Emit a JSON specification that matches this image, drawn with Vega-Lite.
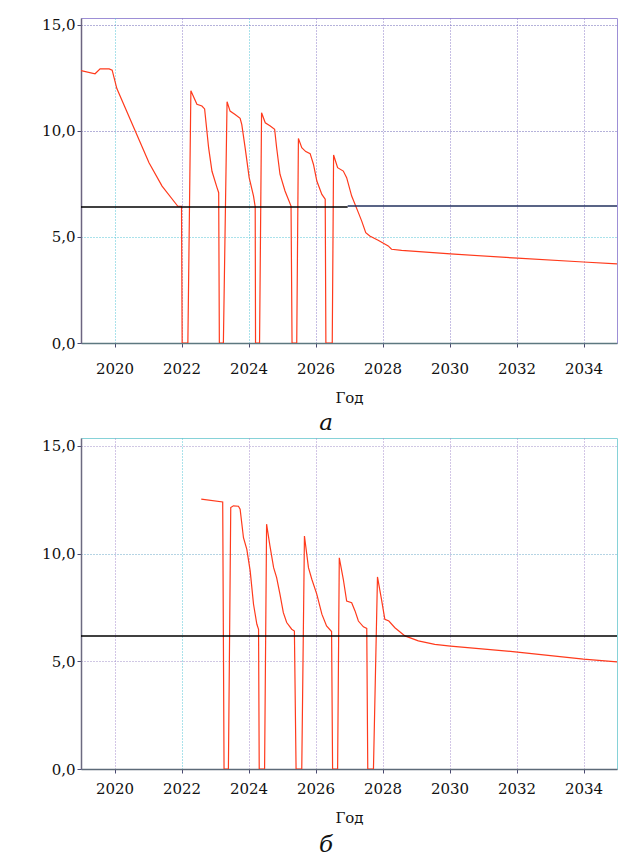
{
  "$schema": "https://vega.github.io/schema/vega-lite/v6.json",
  "background": "white",
  "padding": {"left": 41, "top": 17, "right": 25, "bottom": 0},
  "spacing": 1,
  "config": {
    "font": "DejaVu Serif",
    "view": {"stroke": "#a898d8", "strokeWidth": 1},
    "axis": {
      "labelFont": "DejaVu Serif", "labelFontSize": 15, "labelColor": "#111",
      "titleFont": "DejaVu Serif", "titleFontSize": 15, "titleFontWeight": "normal", "titleColor": "#111",
      "tickColor": "#4a4a70", "tickSize": 4, "domainWidth": 1.5,
      "gridDash": [1, 2], "gridWidth": 1, "gridOpacity": 1
    },
    "title": {"font": "DejaVu Serif", "fontSize": 23, "fontStyle": "italic", "fontWeight": "normal", "color": "#111"}
  },
  "datasets": {
    "a": [
      {"year": 2019.0, "value": 12.85}, {"year": 2019.42, "value": 12.7}, {"year": 2019.57, "value": 12.93},
      {"year": 2019.84, "value": 12.93}, {"year": 2019.93, "value": 12.87}, {"year": 2020.07, "value": 12.0},
      {"year": 2021.03, "value": 8.5}, {"year": 2021.42, "value": 7.4}, {"year": 2021.89, "value": 6.45},
      {"year": 2022.0, "value": 6.45}, {"year": 2022.02, "value": 0}, {"year": 2022.19, "value": 0},
      {"year": 2022.28, "value": 11.9}, {"year": 2022.46, "value": 11.26}, {"year": 2022.61, "value": 11.18},
      {"year": 2022.69, "value": 11.04}, {"year": 2022.81, "value": 9.2}, {"year": 2022.91, "value": 8.1},
      {"year": 2023.06, "value": 7.33}, {"year": 2023.11, "value": 7.09}, {"year": 2023.13, "value": 0},
      {"year": 2023.25, "value": 0}, {"year": 2023.36, "value": 11.38}, {"year": 2023.45, "value": 10.94},
      {"year": 2023.6, "value": 10.78}, {"year": 2023.75, "value": 10.6}, {"year": 2023.8, "value": 10.3},
      {"year": 2023.9, "value": 9.2}, {"year": 2024.02, "value": 7.8}, {"year": 2024.15, "value": 6.93},
      {"year": 2024.2, "value": 6.42}, {"year": 2024.21, "value": 0}, {"year": 2024.33, "value": 0},
      {"year": 2024.39, "value": 10.86}, {"year": 2024.5, "value": 10.39}, {"year": 2024.65, "value": 10.24},
      {"year": 2024.78, "value": 10.08}, {"year": 2024.84, "value": 9.21}, {"year": 2024.94, "value": 7.96},
      {"year": 2025.09, "value": 7.17}, {"year": 2025.27, "value": 6.46}, {"year": 2025.3, "value": 0},
      {"year": 2025.44, "value": 0}, {"year": 2025.49, "value": 9.65}, {"year": 2025.59, "value": 9.21},
      {"year": 2025.71, "value": 9.03}, {"year": 2025.84, "value": 8.93}, {"year": 2025.94, "value": 8.42},
      {"year": 2026.04, "value": 7.64}, {"year": 2026.19, "value": 7.01}, {"year": 2026.29, "value": 6.78},
      {"year": 2026.31, "value": 0}, {"year": 2026.5, "value": 0}, {"year": 2026.54, "value": 8.87},
      {"year": 2026.66, "value": 8.27}, {"year": 2026.83, "value": 8.11}, {"year": 2026.93, "value": 7.8},
      {"year": 2027.08, "value": 6.93}, {"year": 2027.28, "value": 6.15}, {"year": 2027.38, "value": 5.75},
      {"year": 2027.5, "value": 5.2}, {"year": 2027.62, "value": 5.05}, {"year": 2027.87, "value": 4.85},
      {"year": 2028.17, "value": 4.58}, {"year": 2028.27, "value": 4.42}, {"year": 2028.57, "value": 4.37},
      {"year": 2030.03, "value": 4.2}, {"year": 2032.03, "value": 4.0}, {"year": 2034.0, "value": 3.82},
      {"year": 2035.0, "value": 3.73}
    ],
    "ref_a": [
      {"year": 2019.0, "value": 6.42, "seg": "k"}, {"year": 2026.96, "value": 6.42, "seg": "k"},
      {"year": 2026.96, "value": 6.46, "seg": "n"}, {"year": 2035.0, "value": 6.46, "seg": "n"}
    ],
    "b": [
      {"year": 2022.59, "value": 12.53}, {"year": 2023.23, "value": 12.4}, {"year": 2023.27, "value": 0},
      {"year": 2023.4, "value": 0}, {"year": 2023.47, "value": 12.14}, {"year": 2023.55, "value": 12.22},
      {"year": 2023.7, "value": 12.2}, {"year": 2023.75, "value": 12.06}, {"year": 2023.85, "value": 10.74},
      {"year": 2023.95, "value": 10.2}, {"year": 2024.05, "value": 9.2}, {"year": 2024.15, "value": 7.65},
      {"year": 2024.25, "value": 6.72}, {"year": 2024.3, "value": 6.49}, {"year": 2024.32, "value": 0},
      {"year": 2024.48, "value": 0}, {"year": 2024.54, "value": 11.37}, {"year": 2024.64, "value": 10.36},
      {"year": 2024.75, "value": 9.35}, {"year": 2024.84, "value": 8.89}, {"year": 2024.94, "value": 8.11},
      {"year": 2025.04, "value": 7.26}, {"year": 2025.14, "value": 6.8}, {"year": 2025.29, "value": 6.49},
      {"year": 2025.37, "value": 6.41}, {"year": 2025.42, "value": 0}, {"year": 2025.59, "value": 0},
      {"year": 2025.67, "value": 10.82}, {"year": 2025.79, "value": 9.35}, {"year": 2025.89, "value": 8.81},
      {"year": 2026.04, "value": 8.11}, {"year": 2026.19, "value": 7.19}, {"year": 2026.33, "value": 6.64},
      {"year": 2026.48, "value": 6.38}, {"year": 2026.51, "value": 0}, {"year": 2026.66, "value": 0},
      {"year": 2026.71, "value": 9.81}, {"year": 2026.83, "value": 8.81}, {"year": 2026.93, "value": 7.8},
      {"year": 2027.08, "value": 7.72}, {"year": 2027.18, "value": 7.34}, {"year": 2027.28, "value": 6.87},
      {"year": 2027.43, "value": 6.6}, {"year": 2027.53, "value": 6.53}, {"year": 2027.56, "value": 0},
      {"year": 2027.73, "value": 0}, {"year": 2027.85, "value": 8.92}, {"year": 2027.97, "value": 7.88},
      {"year": 2028.07, "value": 6.95}, {"year": 2028.19, "value": 6.87}, {"year": 2028.37, "value": 6.56},
      {"year": 2028.67, "value": 6.18}, {"year": 2029.07, "value": 5.95}, {"year": 2029.56, "value": 5.79},
      {"year": 2030.03, "value": 5.71}, {"year": 2032.03, "value": 5.43}, {"year": 2034.0, "value": 5.1},
      {"year": 2035.0, "value": 4.97}
    ],
    "ref_b": [
      {"year": 2019.0, "value": 6.18}, {"year": 2035.0, "value": 6.18}
    ]
  },
  "vconcat": [
    {
      "width": 536, "height": 325,
      "view": {"stroke": "#9d8fd6"},
      "title": {"text": "а", "orient": "bottom", "anchor": "middle", "dx": -23, "offset": 7},
      "layer": [
        {
          "data": {"name": "a"},
          "mark": {"type": "line", "color": "#ff3a1c", "strokeWidth": 1.2, "clip": true},
          "encoding": {
            "x": {"field": "year", "type": "quantitative",
              "scale": {"domain": [2019, 2035], "nice": false, "zero": false},
              "axis": {"title": "Год", "values": [2020, 2022, 2024, 2026, 2028, 2030, 2032, 2034], "format": "d",
                "labelPadding": 14, "titlePadding": 14, "domainColor": "#5d7880",
                "gridColor": {"condition": {"test": "datum.value == 2020 || datum.value == 2024", "value": "#55c4d6"}, "value": "#8c7cc8"}}},
            "y": {"field": "value", "type": "quantitative",
              "scale": {"domain": [0, 15.33], "nice": false},
              "axis": {"title": null, "values": [0, 5, 10, 15], "labelExpr": "replace(format(datum.value, '.1f'), '.', ',')",
                "labelPadding": 2, "domainColor": "#6c6480",
                "gridColor": {"condition": {"test": "datum.value == 5", "value": "#55c4d6"}, "value": "#6a64b4"}}}
          }
        },
        {
          "data": {"name": "ref_a"},
          "mark": {"type": "line", "strokeWidth": 1.5},
          "encoding": {
            "x": {"field": "year", "type": "quantitative"},
            "y": {"field": "value", "type": "quantitative"},
            "color": {"field": "seg", "type": "nominal", "scale": {"domain": ["k", "n"], "range": ["#000000", "#22305e"]}, "legend": null}
          }
        }
      ]
    },
    {
      "width": 536, "height": 331,
      "view": {"stroke": "#86d2d8"},
      "title": {"text": "б", "orient": "bottom", "anchor": "middle", "dx": -23, "offset": 9},
      "layer": [
        {
          "data": {"name": "b"},
          "mark": {"type": "line", "color": "#ff3a1c", "strokeWidth": 1.2, "clip": true},
          "encoding": {
            "x": {"field": "year", "type": "quantitative",
              "scale": {"domain": [2019, 2035], "nice": false, "zero": false},
              "axis": {"title": "Год", "values": [2020, 2022, 2024, 2026, 2028, 2030, 2032, 2034], "format": "d",
                "labelPadding": 8, "titlePadding": 14, "domainColor": "#5d6a78",
                "gridColor": {"condition": {"test": "datum.value == 2022", "value": "#55c4d6"}, "value": "#a48ccc"}}},
            "y": {"field": "value", "type": "quantitative",
              "scale": {"domain": [0, 15.37], "nice": false},
              "axis": {"title": null, "values": [0, 5, 10, 15], "labelExpr": "replace(format(datum.value, '.1f'), '.', ',')",
                "labelPadding": 2, "domainColor": "#6c6a80",
                "gridColor": {"condition": {"test": "datum.value == 10", "value": "#6aa8c8"}, "value": "#a090c8"}}}
          }
        },
        {
          "data": {"name": "ref_b"},
          "mark": {"type": "line", "strokeWidth": 1.5, "color": "#000000"},
          "encoding": {
            "x": {"field": "year", "type": "quantitative"},
            "y": {"field": "value", "type": "quantitative"}
          }
        }
      ]
    }
  ]
}
